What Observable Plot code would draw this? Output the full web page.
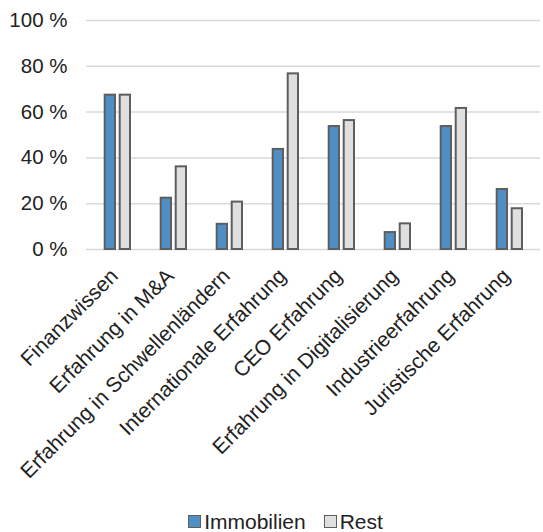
<!DOCTYPE html>
<html>
<head>
<meta charset="utf-8">
<script src="https://cdn.jsdelivr.net/npm/d3@7"></script>
<script src="https://cdn.jsdelivr.net/npm/@observablehq/plot@0.6"></script>
<style>
  html, body { margin: 0; padding: 0; background: #fff; }
  body { width: 543px; height: 532px; overflow: hidden; font-family: "Liberation Sans", Arial, sans-serif; }
  #legend { display: flex; justify-content: center; align-items: center; padding-left: 28px; padding-top: 6px; height: 21px; font-size: 21px; color: #222; }
  .item { display: flex; align-items: center; margin: 0 9px; }
  .swatch { width: 11px; height: 11px; border: 1px solid #5e5e5e; margin-right: 3px; }
</style>
</head>
<body>
<div id="chart"></div>
<div id="legend"></div>
<script>
// Anteil der Aufsichtsratsmitglieder mit der jeweiligen Kompetenz (in %)
const categories = [
  "Finanzwissen",
  "Erfahrung in M&A",
  "Erfahrung in Schwellenländern",
  "Internationale Erfahrung",
  "CEO Erfahrung",
  "Erfahrung in Digitalisierung",
  "Industrieerfahrung",
  "Juristische Erfahrung"
];
const immobilien = [67.4, 22.4, 11.0, 43.7, 53.7, 7.4, 53.7, 26.2];
const rest = [67.4, 36.1, 20.7, 76.7, 56.3, 11.2, 61.6, 17.8];
const yTicks = [0, 20, 40, 60, 80, 100];
const seriesNames = ["Immobilien", "Rest"];
const seriesColors = ["#4f8fc3", "#dfdfdf"];

const rows = categories.map((c, i) => ({category: c, immobilien: immobilien[i], rest: rest[i]}));

const barStyle = {stroke: "#5e5e5e", strokeWidth: 2};

const chart = Plot.plot({
  width: 543,
  height: 505,
  marginTop: 20,
  marginLeft: 86,
  marginRight: 3,
  marginBottom: 256,
  style: {fontFamily: "'Liberation Sans', Arial, sans-serif", fontSize: "20px", color: "#222", background: "#fff"},
  x: {domain: categories, padding: 0, label: null},
  y: {domain: [0, 100], label: null},
  marks: [
    Plot.ruleY(yTicks, {stroke: "#d9d9d9", strokeWidth: 1.5}),
    Plot.barY(rows, {x: "category", y: "immobilien", fill: seriesColors[0], insetLeft: 15.7, insetRight: 30, ...barStyle}),
    Plot.barY(rows, {x: "category", y: "rest", fill: seriesColors[1], insetLeft: 30.7, insetRight: 15, ...barStyle}),
    Plot.axisY({ticks: yTicks, tickFormat: d => d + " %", tickSize: 0, tickPadding: 19, label: null, fontSize: 20.5}),
    Plot.axisX({tickSize: 0, tickRotate: -45, tickPadding: 23, dx: -3, label: null, fontSize: 21})
  ]
});
document.getElementById("chart").append(chart);

const legend = d3.select("#legend");
seriesNames.forEach((name, i) => {
  const item = legend.append("div").attr("class", "item");
  item.append("div").attr("class", "swatch").style("background", seriesColors[i]);
  item.append("span").text(name);
});
</script>
</body>
</html>
